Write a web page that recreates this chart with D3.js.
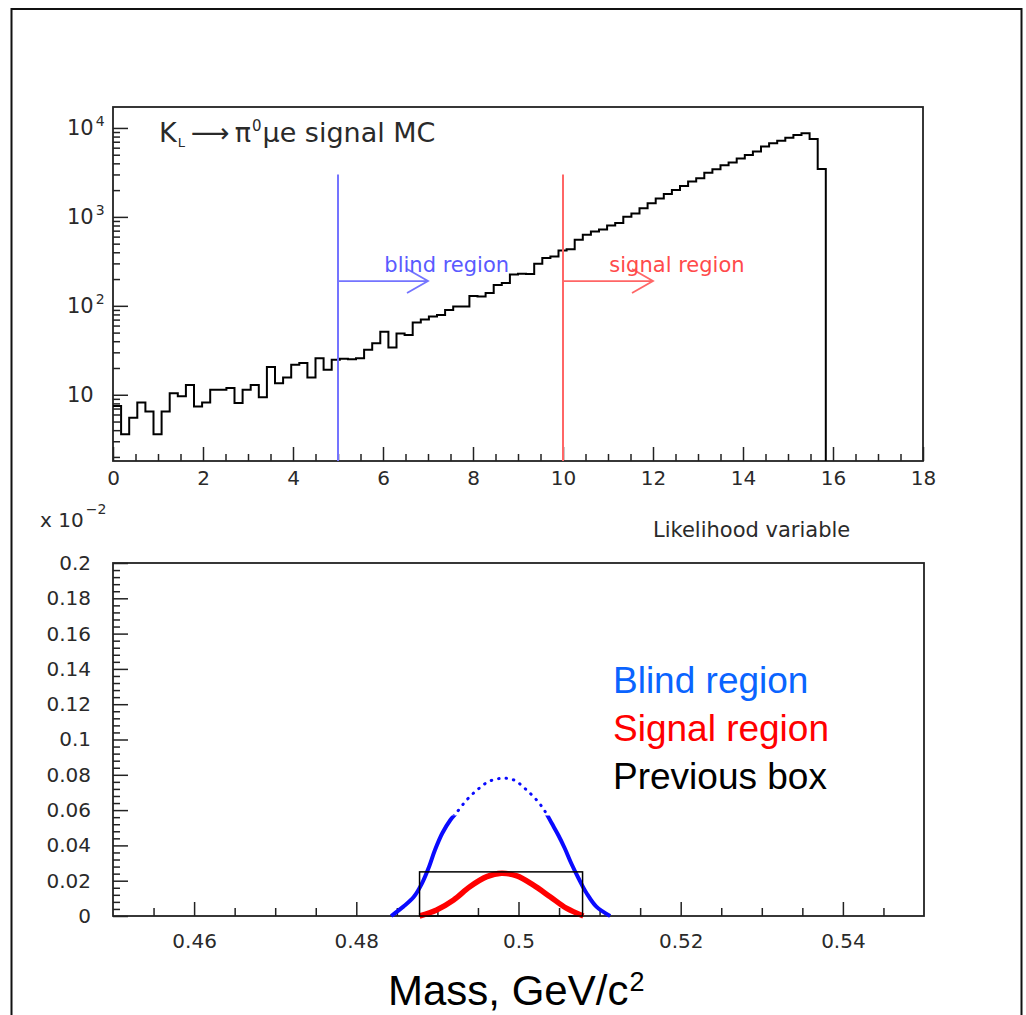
<!DOCTYPE html>
<html><head><meta charset="utf-8">
<script src="https://cdn.jsdelivr.net/npm/d3@7"></script>
<style>
html,body{margin:0;padding:0;background:#fff;}
svg{display:block;}
.rt{font-family:"DejaVu Sans",sans-serif;fill:#2a2a2a;}
.ar{font-family:"Liberation Sans",Arial,sans-serif;}
</style></head>
<body>
<svg id="c" width="1026" height="1015"></svg>
<script>
// ---------- DATA ----------
// Top: likelihood histogram (100 bins over 0..18, filled bins 0..87)
const histLow = 0, histHigh = 18, nBins = 100;
const histValues = [
  7.5, 3.6, 5.5, 8.2, 6.5, 3.6, 6.5, 10.4, 9.6, 12.9,
  7.4, 8.2, 11.4, 11.4, 11.9, 8.1, 11.4, 12.9, 9.4, 20.5,
  13.5, 15.6, 21.7, 22.7, 15.6, 25.8, 19.1, 24.7, 25.4, 25,
  25.8, 32, 38, 51, 34, 49, 47, 65, 70, 76,
  79, 90, 98, 98, 129, 127, 139, 172, 180, 225,
  230, 228, 297, 344, 358, 418, 433, 552, 629, 684,
  720, 800, 855, 1005, 1095, 1253, 1426, 1607, 1813, 2010,
  2229, 2493, 2716, 3145, 3434, 3808, 4077, 4520, 4973, 5421,
  6169, 6724, 7194, 7777, 8337, 8714, 7520, 3460
];
const topXTicks = [0, 2, 4, 6, 8, 10, 12, 14, 16, 18];
const topYTicks = [10, 100, 1000, 10000];
const topYLabels = ["10", "10", "10", "10"];
const topYExp = ["", "2", "3", "4"];
const cutBlind = 5, cutSignal = 10, cutTop = 3000, arrowLen = 2, arrowLevel = 190;
const cutLabels = ["blind region", "signal region"];

// Bottom: mass distributions
const botXTicks = [0.46, 0.48, 0.5, 0.52, 0.54];
const botYTicks = [0, 0.02, 0.04, 0.06, 0.08, 0.1, 0.12, 0.14, 0.16, 0.18, 0.2];
const blindMass = [0.4843, 0.4858, 0.4871, 0.4881, 0.4889, 0.4897, 0.4906, 0.4916, 0.4923, 0.4936,
                   0.4949, 0.4963, 0.4979, 0.4994, 0.5010, 0.5024, 0.5033, 0.5041, 0.5049, 0.5057,
                   0.5065, 0.5074, 0.5084, 0.5096, 0.5113];
const blindVal  = [0, 0.0053, 0.0109, 0.0185, 0.0270, 0.0374, 0.0469, 0.0544, 0.0582, 0.0657,
                   0.0714, 0.0761, 0.0780, 0.0771, 0.0714, 0.0648, 0.0591, 0.0525, 0.0459, 0.0384,
                   0.0299, 0.0214, 0.0129, 0.0053, 0];
const signalMass = [0.4878, 0.4899, 0.4920, 0.4940, 0.4961, 0.4979, 0.4998, 0.5018, 0.5039, 0.5059, 0.5080];
const signalVal  = [0, 0.0034, 0.0091, 0.0166, 0.0223, 0.0242, 0.0227, 0.0176, 0.0109, 0.0044, 0];
const boxLo = 0.4878, boxHi = 0.5079, boxTop = 0.025;
const legendLabels = ["Blind region", "Signal region", "Previous box"];
const legendColors = ["#0a64ff", "#ff0000", "#000000"];

// ---------- DRAW ----------
const svg = d3.select("#c");
svg.append("rect").attr("x", 11.5).attr("y", 9).attr("width", 1010).attr("height", 1040)
  .attr("fill", "none").attr("stroke", "#111").attr("stroke-width", 2);

// ===== TOP PANEL =====
const xT = d3.scaleLinear([0, 18], [113, 923]);
const yT = d3.scaleLog([1.8, 17200], [461, 107]);
const binW = (histHigh - histLow) / nBins;

const gxT = svg.append("g").attr("transform", `translate(0,${yT.range()[0]})`);
gxT.call(d3.axisBottom(xT).tickValues(topXTicks).tickSize(-14).tickSizeOuter(0).tickPadding(10).tickFormat(d3.format("d")));
const gxTm = svg.append("g").attr("transform", `translate(0,${yT.range()[0]})`);
gxTm.call(d3.axisBottom(xT).tickValues(d3.range(0.5, 18, 0.5).filter(v => v % 2 !== 0)).tickSize(-7).tickSizeOuter(0).tickFormat(""));
const gyT = svg.append("g").attr("transform", `translate(${xT.range()[0]},0)`);
gyT.call(d3.axisLeft(yT).tickValues(topYTicks).tickSize(-15).tickSizeOuter(0).tickFormat(""));
const minorLog = [];
[1, 10, 100, 1000].forEach(d => { for (let k = 2; k <= 9; k++) { const v = k * d; if (v >= 1.8 && v <= 17200) minorLog.push(v); } });
const gyTm = svg.append("g").attr("transform", `translate(${xT.range()[0]},0)`);
gyTm.call(d3.axisLeft(yT).tickValues(minorLog).tickSize(-7).tickSizeOuter(0).tickFormat(""));
[gxT, gxTm, gyT, gyTm].forEach(g => {
  g.selectAll("path.domain").remove();
  g.selectAll("line").attr("stroke", "#222").attr("stroke-width", 1.5);
  g.selectAll("text").attr("font-size", 20).attr("fill", "#2a2a2a").attr("font-family", "DejaVu Sans");
});
topYTicks.forEach((v, i) => {
  const t = svg.append("text").attr("class", "rt").attr("x", 67).attr("y", yT(v) + 7).attr("font-size", 21);
  t.append("tspan").text(topYLabels[i]);
  if (topYExp[i]) t.append("tspan").attr("font-size", 14).attr("dy", -9).attr("dx", 2).text(topYExp[i]);
});

svg.append("rect").attr("x", 113).attr("y", 107).attr("width", 810).attr("height", 354)
  .attr("fill", "none").attr("stroke", "#222").attr("stroke-width", 1.8);

// histogram
const pts = histValues.map((v, i) => [histLow + i * binW, v]);
pts.push([histLow + histValues.length * binW, histValues[histValues.length - 1]]);
const hline = d3.line().x(d => xT(d[0])).y(d => yT(d[1])).curve(d3.curveStepAfter);
let dHist = hline(pts) + `L${xT(histLow + histValues.length * binW)},${yT.range()[0]}`;
svg.append("path").attr("d", dHist).attr("fill", "none").attr("stroke", "#000").attr("stroke-width", 2);

// cut lines & arrows
const cuts = [[cutBlind, "#7474ff", "#5a5aff"], [cutSignal, "#ff6666", "#ff4a4a"]];
cuts.forEach(([c, col, tcol], i) => {
  svg.append("line").attr("x1", xT(c)).attr("x2", xT(c)).attr("y1", yT(cutTop)).attr("y2", yT.range()[0])
    .attr("stroke", col).attr("stroke-width", 2);
  const x0 = xT(c), x1 = xT(c + arrowLen), ya = yT(arrowLevel);
  svg.append("path").attr("d", `M${x0},${ya}L${x1},${ya}M${x1 - 21},${ya - 12}L${x1},${ya}L${x1 - 21},${ya + 12}`)
    .attr("fill", "none").attr("stroke", col).attr("stroke-width", 1.8);
  svg.append("text").attr("class", "rt").attr("x", xT(c + 1.03)).attr("y", yT(arrowLevel) - 9)
    .attr("font-size", 21).style("fill", tcol).text(cutLabels[i]);
});

// title
const tt = svg.append("text").attr("class", "rt").attr("x", 159).attr("y", 142).attr("font-size", 27);
tt.append("tspan").text("K");
tt.append("tspan").attr("font-size", 13).attr("dy", 5).attr("dx", 1).text("L");
tt.append("tspan").attr("dy", -5).attr("dx", 6).text("\u27F6");
tt.append("tspan").attr("dx", 5).text("\u03C0");
tt.append("tspan").attr("font-size", 15).attr("dy", -11).attr("dx", 1).text("0");
tt.append("tspan").attr("dy", 11).attr("dx", 1).text("\u03BCe signal MC");

svg.append("text").attr("class", "rt").attr("x", 653).attr("y", 537).attr("font-size", 21).text("Likelihood variable");
const ex = svg.append("text").attr("class", "rt").attr("x", 40).attr("y", 527).attr("font-size", 20);
ex.append("tspan").text("x 10");
ex.append("tspan").attr("font-size", 14).attr("dy", -13).attr("dx", 2).text("\u22122");

// ===== BOTTOM PANEL =====
const xB = d3.scaleLinear([0.45, 0.55], [113, 924]);
const yB = d3.scaleLinear([0, 0.2], [916, 563]);
const fmtB = d => String(+d.toFixed(3));
const gxB = svg.append("g").attr("transform", `translate(0,916)`);
gxB.call(d3.axisBottom(xB).tickValues(botXTicks).tickSize(-14).tickSizeOuter(0).tickPadding(18).tickFormat(fmtB));
const gxBm = svg.append("g").attr("transform", `translate(0,916)`);
gxBm.call(d3.axisBottom(xB).tickValues(d3.range(0, 20).map(i => 0.455 + i * 0.005).filter(v => v < 0.55 && Math.abs((v - 0.46) / 0.02 - Math.round((v - 0.46) / 0.02)) > 1e-6)).tickSize(-8).tickSizeOuter(0).tickFormat(""));
const gyB = svg.append("g").attr("transform", `translate(113,0)`);
gyB.call(d3.axisLeft(yB).tickValues(botYTicks).tickSize(-15).tickSizeOuter(0).tickPadding(22).tickFormat(fmtB));
const gyBm = svg.append("g").attr("transform", `translate(113,0)`);
gyBm.call(d3.axisLeft(yB).tickValues(d3.range(0, 50).map(i => i * 0.004).filter((v, i) => i % 5 !== 0)).tickSize(-7).tickSizeOuter(0).tickFormat(""));
[gxB, gxBm, gyB, gyBm].forEach(g => {
  g.selectAll("path.domain").remove();
  g.selectAll("line").attr("stroke", "#222").attr("stroke-width", 1.5);
  g.selectAll("text").attr("font-size", 20).attr("fill", "#2a2a2a").attr("font-family", "DejaVu Sans");
});
svg.append("rect").attr("x", 113).attr("y", 563).attr("width", 811).attr("height", 353)
  .attr("fill", "none").attr("stroke", "#222").attr("stroke-width", 1.8);

const defs = svg.append("defs");
const cut = yB(0.057);
defs.append("clipPath").attr("id", "low").append("rect").attr("x", 0).attr("y", cut).attr("width", 1026).attr("height", 916 - cut + 10);
defs.append("clipPath").attr("id", "high").append("rect").attr("x", 0).attr("y", 0).attr("width", 1026).attr("height", cut);

const cl = d3.line().x(d => xB(d[0])).y(d => yB(d[1])).curve(d3.curveCatmullRom);
const blindPts = blindMass.map((m, i) => [m, blindVal[i]]);
svg.append("path").attr("d", cl(blindPts)).attr("fill", "none").attr("stroke", "#0a0aff").attr("stroke-width", 4)
  .attr("clip-path", "url(#low)");
svg.append("path").attr("d", cl(blindPts)).attr("fill", "none").attr("stroke", "#0a0aff").attr("stroke-width", 3)
  .attr("stroke-linecap", "round").attr("stroke-dasharray", "0.5 7").attr("clip-path", "url(#high)");

const sigPts = signalMass.map((m, i) => [m, signalVal[i]]);
svg.append("path").attr("d", cl(sigPts)).attr("fill", "none").attr("stroke", "#ff0000").attr("stroke-width", 5.5);

svg.append("rect").attr("x", xB(boxLo)).attr("y", yB(boxTop)).attr("width", xB(boxHi) - xB(boxLo)).attr("height", yB(0) - yB(boxTop))
  .attr("fill", "none").attr("stroke", "#000").attr("stroke-width", 1.5);

legendLabels.forEach((l, i) => {
  svg.append("text").attr("class", "ar").attr("x", 613).attr("y", 693 + i * 48).attr("font-size", 37)
    .attr("fill", legendColors[i]).text(l);
});
const mt = svg.append("text").attr("class", "ar").attr("x", 388).attr("y", 1005).attr("font-size", 42).attr("fill", "#000");
mt.append("tspan").text("Mass, GeV/c");
mt.append("tspan").attr("font-size", 27).attr("dy", -14).attr("dx", 1).text("2");
</script>
</body></html>
